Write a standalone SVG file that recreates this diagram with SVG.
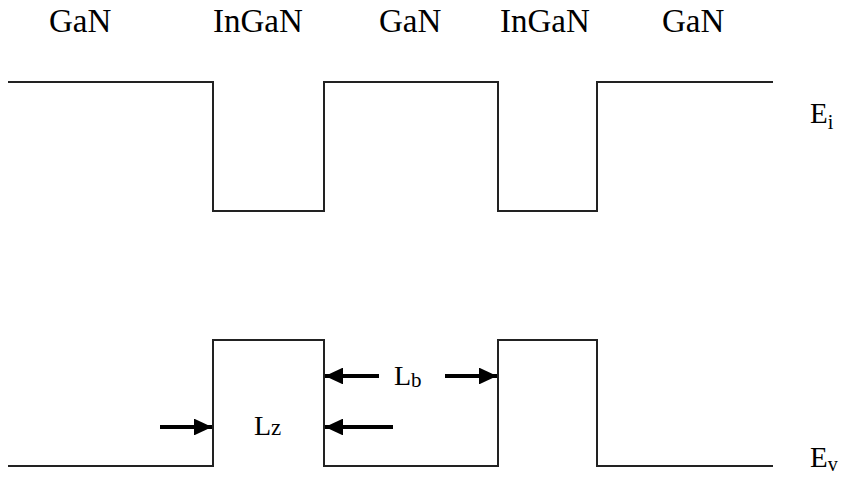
<svg xmlns="http://www.w3.org/2000/svg" width="843" height="477" viewBox="0 0 843 477">
  <style>
    .band { fill: none; stroke: #222; stroke-width: 2; }
    .arrow { stroke: #000; stroke-width: 4; fill: none; }
    .lbl { font-family: "Liberation Serif", "Times New Roman", serif; fill: #000; }
  </style>
  <defs>
    <marker id="head" viewBox="0 0 10 10" refX="10" refY="5" markerWidth="4.5" markerHeight="4.2" orient="auto" markerUnits="strokeWidth" preserveAspectRatio="none">
      <path d="M0,0 L10,5 L0,10 z" fill="#000"/>
    </marker>
  </defs>
  <rect width="843" height="477" fill="#fff"/>

  <!-- layer labels -->
  <g id="layers" class="lbl" font-size="33">
    <text x="49" y="32">GaN</text>
    <text x="213" y="32">InGaN</text>
    <text x="379" y="32">GaN</text>
    <text x="500" y="32">InGaN</text>
    <text x="662" y="32">GaN</text>
  </g>

  <!-- conduction band edge -->
  <g id="conduction-band">
    <path class="band" d="M8,82 H213 V211 H324 V82 H498 V211 H597 V82 H773"/>
    <text class="lbl" x="810" y="123" font-size="29">E<tspan font-size="20" dy="6">i</tspan></text>
  </g>

  <!-- valence band edge -->
  <g id="valence-band">
    <path class="band" d="M8,466 H213 V340 H324 V466 H498 V340 H597 V466 H773"/>
    <text class="lbl" x="810" y="467" font-size="29">E<tspan font-size="20" dy="4">v</tspan></text>
  </g>

  <!-- width markers -->
  <g id="connectors">
    <line class="arrow" x1="160" y1="427" x2="212" y2="427" marker-end="url(#head)"/>
    <line class="arrow" x1="393" y1="427" x2="325" y2="427" marker-end="url(#head)"/>
    <line class="arrow" x1="379" y1="376" x2="325" y2="376" marker-end="url(#head)"/>
    <line class="arrow" x1="445" y1="376" x2="497" y2="376" marker-end="url(#head)"/>
  </g>

  <g id="well-width" class="lbl">
    <text x="254" y="435" font-size="28">L<tspan font-size="23">z</tspan></text>
  </g>
  <g id="barrier-width" class="lbl">
    <text x="394" y="385" font-size="28">L<tspan font-size="21" dy="2">b</tspan></text>
  </g>
</svg>
